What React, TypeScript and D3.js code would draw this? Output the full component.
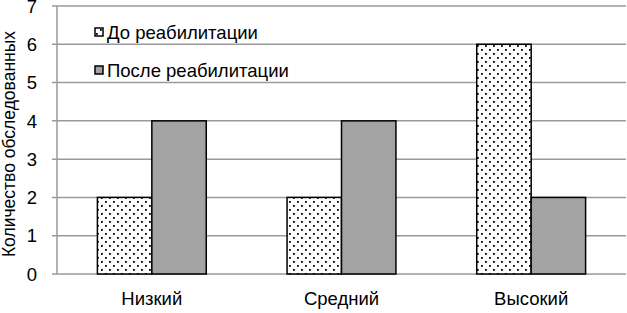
import React from "react";
import * as d3 from "d3";

const categories = ["Низкий", "Средний", "Высокий"];
const seriesNames = ["До реабилитации", "После реабилитации"];
const before = [2, 2, 6];
const after = [4, 4, 2];
const yTicks = [0, 1, 2, 3, 4, 5, 6, 7];
const yTitle = "Количество обследованных";

const W = 627, H = 313;
const M = { left: 57, right: 1, top: 6, bottom: 39 };

export default function App() {
  const x = d3.scaleBand<string>().domain(categories).range([M.left, W - M.right]).paddingInner(0.426).paddingOuter(0.213);
  const inner = d3.scaleBand<string>().domain(seriesNames).range([0, x.bandwidth()]);
  const y = d3.scaleLinear().domain([0, 7]).range([H - M.bottom, M.top]);
  const series = [before, after];
  const font = "'Liberation Sans', Arial, sans-serif";
  return (
    <svg width={W} height={H} style={{ position: "absolute", left: 0, top: 0, background: "#fff" }} fontFamily={font}>
      <defs>
        <pattern id="dots" width={8} height={8} patternUnits="userSpaceOnUse">
          <rect width={8} height={8} fill="#fff" />
          <rect x={1} y={1} width={1.8} height={1.8} fill="#000" />
          <rect x={5} y={5} width={1.8} height={1.8} fill="#000" />
        </pattern>
      </defs>
      {yTicks.map((t) => (
        <g key={t}>
          <line x1={M.left - 5} x2={W - M.right} y1={y(t)} y2={y(t)} stroke="#9a9a9a" strokeWidth={1.5} />
          <text x={M.left - 20} y={y(t)} dy="0.36em" textAnchor="end" fontSize={18.5} fill="#000">{t}</text>
        </g>
      ))}
      <line x1={M.left} x2={M.left} y1={y(7)} y2={y(0)} stroke="#9a9a9a" strokeWidth={1.5} />
      {categories.map((c, i) => (
        <g key={c}>
          {series.map((s, j) => (
            <rect key={j} x={(x(c) as number) + (inner(seriesNames[j]) as number)} y={y(s[i])}
              width={inner.bandwidth()} height={y(0) - y(s[i])}
              fill={j === 0 ? "url(#dots)" : "#a3a3a3"} stroke="#000" strokeWidth={1.5} />
          ))}
          <text x={(x(c) as number) + x.bandwidth() / 2} y={298} dy="0.36em" textAnchor="middle" fontSize={18.5} fill="#000">{c}</text>
        </g>
      ))}
      <text transform={`translate(15,${144}) rotate(-90)`} textAnchor="middle" fontSize={17.5} fill="#000">{yTitle}</text>
      {seriesNames.map((n, j) => (
        <g key={n} transform={`translate(95,${32 + j * 38})`}>
          <rect x={0} y={-4} width={8} height={8} fill={j === 0 ? "url(#dots)" : "#a3a3a3"} stroke="#000" strokeWidth={1.5} />
          <text x={12} y={0} dy="0.36em" fontSize={18.5} fill="#000">{n}</text>
        </g>
      ))}
    </svg>
  );
}
